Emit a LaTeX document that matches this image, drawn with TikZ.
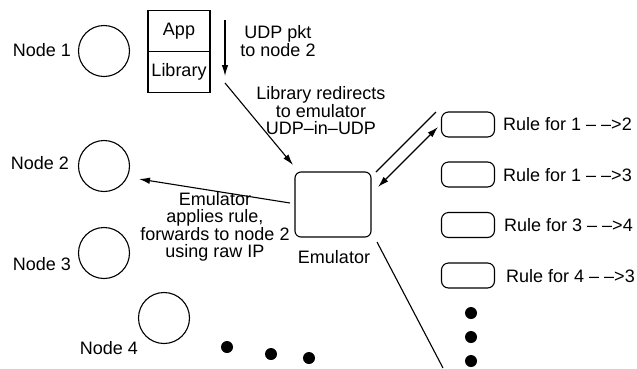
\documentclass[tikz,border=0pt]{standalone}
\usepackage{fontspec}
\setmainfont{Liberation Sans}
\usetikzlibrary{arrows.meta}
\begin{document}
\begin{tikzpicture}[x=1pt,y=-1pt,
  every node/.style={font=\fontsize{18}{18.5}\selectfont, inner sep=0pt},
  hostc/.style={draw, circle, line width=1.1pt, minimum size=51pt},
  cell/.style={draw, line width=1.1pt, minimum width=62pt, minimum height=41pt},
  emu/.style={draw, line width=1.1pt, rounded corners=6pt, minimum width=76pt, minimum height=65pt},
  rulebox/.style={draw, line width=1.1pt, rounded corners=7pt, minimum width=53pt, minimum height=25pt},
  lbl/.style={align=center},
  conn/.style={line width=1.1pt},
  arr/.style={line width=1.1pt, -{Latex[length=11pt,width=6.5pt]}},
  dot/.style={circle, fill=black, minimum size=12pt}
]
\useasboundingbox (0,0) rectangle (637,368);

% hosts
\node[hostc] (n1) at (104,51) {};
\node[anchor=east] (t1) at (71,50) {Node 1};
\node[hostc] (n2) at (104,166) {};
\node[anchor=east] (t2) at (69,163) {Node 2};
\node[hostc] (n3) at (104,253) {};
\node[anchor=east] (t3) at (71,264) {Node 3};
\node[hostc] (n4) at (164,318) {};
\node[anchor=east] (t4) at (138,348) {Node 4};

% App / Library
\node[cell] (app) at (179,31) {App};
\node[cell] (lib) at (179,72) {Library};

% UDP pkt arrow
\coordinate (d1) at (225,20);
\coordinate (d2) at (225,76);
\draw[arr] (d1) -- (d2);
\node[lbl] (udp) at (278,41) {UDP pkt\\[-1pt]to node 2};

% library to emulator
\coordinate (l1) at (225,83);
\coordinate (l2) at (293,165);
\draw[arr] (l1) -- (l2);
\node[lbl] (redir) at (321,111) {Library redirects\\[-1pt]to emulator\\[-1pt]UDP--in--UDP};

% emulator
\node[emu] (emul) at (333,204.5) {};
\node (emlbl) at (334,257) {Emulator};

% emulator to node 2
\coordinate (e1) at (290,203);
\coordinate (e2) at (139,179);
\draw[arr] (e1) -- (e2);
\node[lbl] (apply) at (215,227) {Emulator\\[-1pt]applies rule,\\[-1pt]forwards to node 2\\[-1pt]using raw IP};

% rule boxes
\node[rulebox] (r1) at (468,124.5) {};
\node[rulebox] (r2) at (468,174.5) {};
\node[rulebox] (r3) at (468,225) {};
\node[rulebox] (r4) at (468,275.5) {};
\node[anchor=west] (rt1) at (503,124) {Rule for 1 -- -->2};
\node[anchor=west] (rt2) at (503,175) {Rule for 1 -- -->3};
\node[anchor=west] (rt3) at (504,225) {Rule for 3 -- -->4};
\node[anchor=west] (rt4) at (506,276) {Rule for 4 -- -->3};

% emulator <-> rules
\coordinate (q1) at (376,172);
\coordinate (q2) at (436,112);
\draw[conn] (q1) -- (q2);
\coordinate (p1) at (378,187);
\coordinate (p2) at (438,127);
\draw[line width=1.1pt, {Latex[length=11pt,width=6.5pt]}-{Latex[length=11pt,width=6.5pt]}] (p1) -- (p2);

% emulator to bottom
\coordinate (b1) at (377,242);
\coordinate (b2) at (443,368);
\draw[conn] (b1) -- (b2);

% dots
\node[dot] (h1) at (227,347) {};
\node[dot] (h2) at (271,354) {};
\node[dot] (h3) at (309,358) {};
\node[dot] (v1) at (471,313) {};
\node[dot] (v2) at (471,337) {};
\node[dot] (v3) at (471,361) {};
\end{tikzpicture}
\end{document}
